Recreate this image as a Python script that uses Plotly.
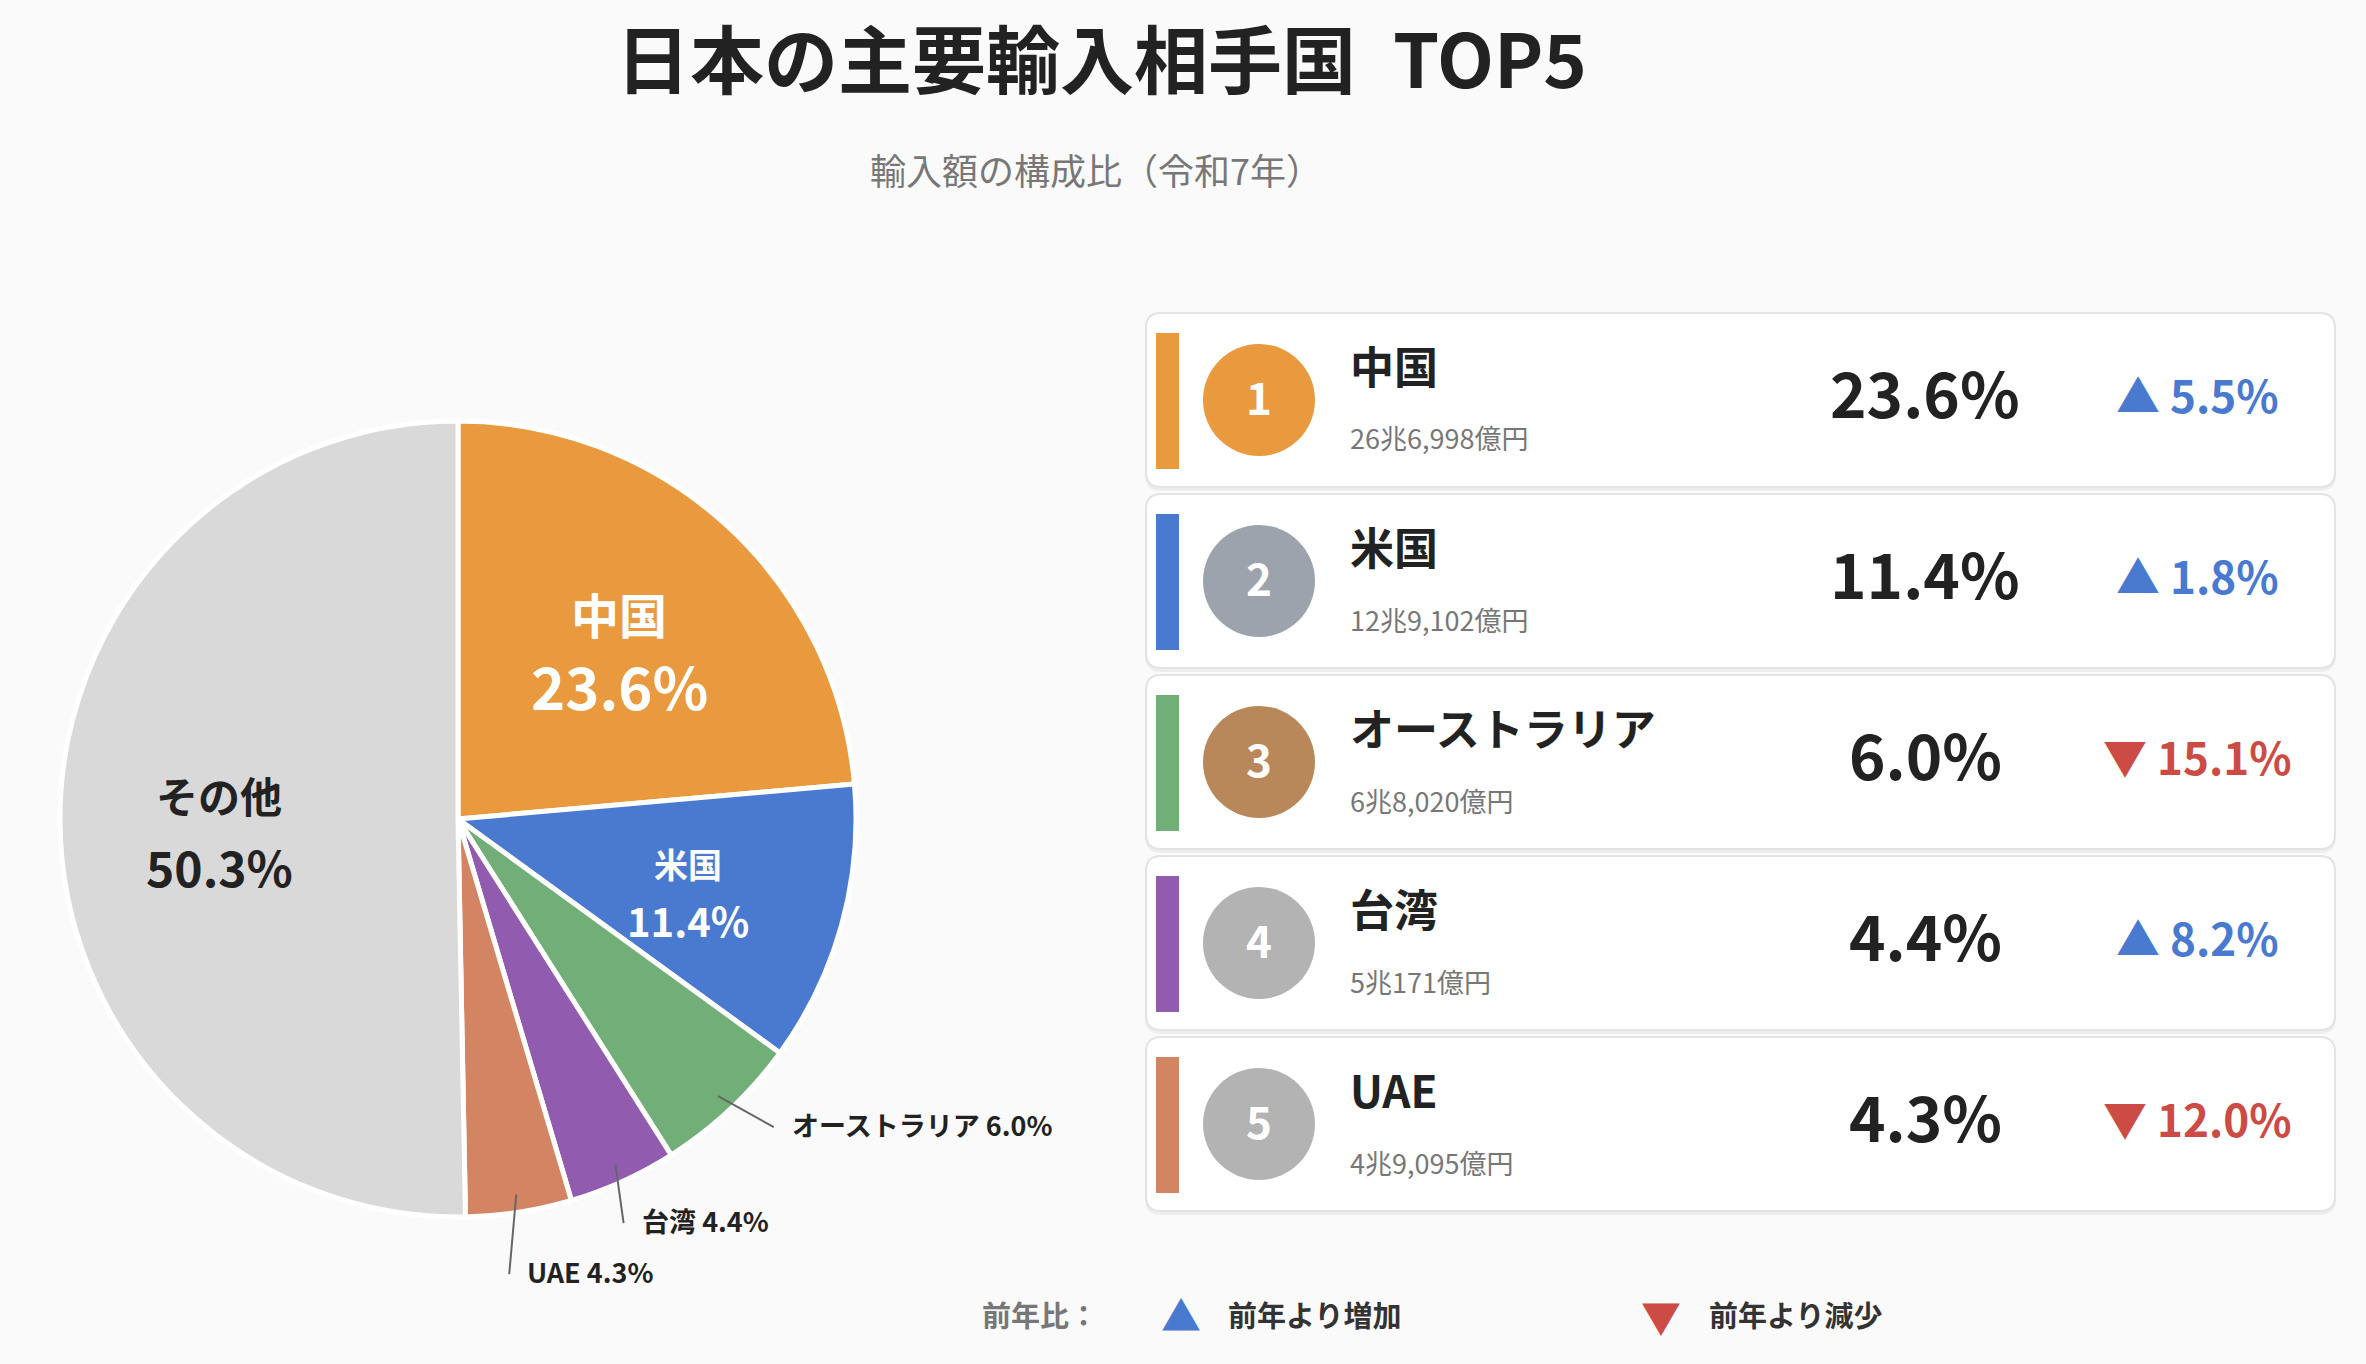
import math
import plotly.graph_objects as go

# ---------------- data ----------------
countries = ["中国", "米国", "オーストラリア", "台湾", "UAE"]
shares = [23.6, 11.4, 6.0, 4.4, 4.3]
other_label = "その他"
other_share = 50.3
amounts_oku = [266998, 129102, 68020, 50171, 49095]   # 億円
yoy = [5.5, 1.8, -15.1, 8.2, -12.0]                   # 前年比 %
ranks = [1, 2, 3, 4, 5]

title_text = "日本の主要輸入相手国\u2002TOP5"
subtitle_text = "輸入額の構成比（令和7年）"
legend_title = "前年比："
legend_up = "前年より増加"
legend_down = "前年より減少"

# ---------------- style ----------------
W, H = 2366, 1364
FONT = "Noto Sans CJK JP"
BG = "#FAFAFA"
slice_colors = ["#E99A3E", "#4A7ACF", "#72AE78", "#915BAF", "#D38462", "#D9D9D9"]
rank_colors = ["#E99A3E", "#9DA3AD", "#B8875A", "#B3B3B3", "#B3B3B3"]
UP, DOWN = "#4A7ACF", "#CC4B45"
DARK = "#222222"
GRAY = "#777777"

CX, CY, R = 458, 819, 398


def X(px):
    return px / W


def Y(py):
    return 1 - py / H


labels = countries + [other_label]
values = shares + [other_share]
total = sum(values)

fig = go.Figure()
fig.add_trace(go.Pie(
    labels=labels, values=values, sort=False, direction="clockwise", rotation=0,
    marker=dict(colors=slice_colors, line=dict(color="white", width=5)),
    textinfo="none", hoverinfo="label+percent", showlegend=False,
    domain=dict(x=[X(CX - R), X(CX + R)], y=[Y(CY + R), Y(CY - R)]),
))

ann = []
shapes = []

# ---------- pie labels ----------
inside_style = {
    "中国": dict(n=48, v=58, off=36, dy=6, col="white"),
    "米国": dict(n=34, v=40, off=28, dy=9, col="white"),
    "その他": dict(n=42, v=48, off=36, dy=9, col=DARK),
}
outside_style = {
    "オーストラリア": dict(rf=1.103, da=-2.5),
    "台湾": dict(rf=1.092, da=2.2),
    "UAE": dict(rf=1.145, da=2.4),
}
cum = 0.0
for lab, val in zip(labels, values):
    mid = (cum + val / 2) / total * 2 * math.pi
    cum += val
    if lab in inside_style:
        s = inside_style[lab]
        f = 0.6 * R
        lx = CX + f * math.sin(mid)
        ly = CY - f * math.cos(mid) + s["dy"]
        ann.append(dict(x=X(lx), y=Y(ly - s["off"]), text=lab, showarrow=False,
                        xanchor="center", yanchor="middle",
                        font=dict(family=FONT, size=s["n"], color=s["col"], weight=700)))
        ann.append(dict(x=X(lx), y=Y(ly + s["off"]), text=f"{val:.1f}%", showarrow=False,
                        xanchor="center", yanchor="middle",
                        font=dict(family=FONT, size=s["v"], color=s["col"], weight=700)))
    else:
        s = outside_style[lab]
        Rl = 400
        sx = CX + 0.95 * Rl * math.sin(mid)
        sy = CY - 0.95 * Rl * math.cos(mid)
        a2 = mid + math.radians(s["da"])
        ex = CX + s["rf"] * Rl * math.sin(a2)
        ey = CY - s["rf"] * Rl * math.cos(a2)
        shapes.append(dict(type="line", xref="paper", yref="paper",
                           x0=X(sx), y0=Y(sy), x1=X(ex), y1=Y(ey),
                           line=dict(color="#666666", width=2)))
        ann.append(dict(x=X(ex + 16), y=Y(ey - 3), text=f"{lab} {val:.1f}%", showarrow=False,
                        xanchor="left", yanchor="middle",
                        font=dict(family=FONT, size=27, color=DARK, weight=700)))

# ---------- title ----------
ann.append(dict(x=X(1101), y=Y(56), text=title_text, showarrow=False,
                xanchor="center", yanchor="middle",
                font=dict(family=FONT, size=74, color=DARK, weight=700)))
ann.append(dict(x=X(1096), y=Y(169), text=subtitle_text, showarrow=False,
                xanchor="center", yanchor="middle",
                font=dict(family=FONT, size=36, color=GRAY)))


# ---------- cards ----------
def rrect(x0, y0, x1, y1, r):
    rx, ry = r, r
    pts = [
        f"M {X(x0 + rx)},{Y(y0)}",
        f"L {X(x1 - rx)},{Y(y0)}",
        f"Q {X(x1)},{Y(y0)} {X(x1)},{Y(y0 + ry)}",
        f"L {X(x1)},{Y(y1 - ry)}",
        f"Q {X(x1)},{Y(y1)} {X(x1 - rx)},{Y(y1)}",
        f"L {X(x0 + rx)},{Y(y1)}",
        f"Q {X(x0)},{Y(y1)} {X(x0)},{Y(y1 - ry)}",
        f"L {X(x0)},{Y(y0 + ry)}",
        f"Q {X(x0)},{Y(y0)} {X(x0 + rx)},{Y(y0)}",
        "Z",
    ]
    return " ".join(pts)


def fmt_amount(oku):
    cho, rest = divmod(oku, 10000)
    return f"{cho}兆{rest:,}億円"


CARD_X0, CARD_X1 = 1146, 2335
CARD_TOP0, CARD_PITCH, CARD_H = 313, 181, 174
for i, (name, sh, amt, ch, rk) in enumerate(zip(countries, shares, amounts_oku, yoy, ranks)):
    top = CARD_TOP0 + CARD_PITCH * i
    bot = top + CARD_H
    shapes.append(dict(type="path", xref="paper", yref="paper", layer="below",
                       path=rrect(CARD_X0 - 1, top + 1, CARD_X1 + 1, bot + 4, 16),
                       fillcolor="rgba(0,0,0,0.05)", line=dict(width=0)))
    shapes.append(dict(type="path", xref="paper", yref="paper", layer="below",
                       path=rrect(CARD_X0, top, CARD_X1, bot, 15),
                       fillcolor="white", line=dict(color="#E3E3E3", width=2)))
    shapes.append(dict(type="rect", xref="paper", yref="paper",
                       x0=X(1156), x1=X(1179), y0=Y(top + 20), y1=Y(top + 156),
                       fillcolor=slice_colors[i], line=dict(width=0)))
    ccx, ccy, cr = 1259, top + 87, 56
    shapes.append(dict(type="circle", xref="paper", yref="paper",
                       x0=X(ccx - cr), x1=X(ccx + cr), y0=Y(ccy + cr), y1=Y(ccy - cr),
                       fillcolor=rank_colors[i], line=dict(width=0)))
    ann.append(dict(x=X(ccx), y=Y(ccy - 4), text=str(rk), showarrow=False,
                    xanchor="center", yanchor="middle",
                    font=dict(family=FONT, size=44, color="white", weight=700)))
    ann.append(dict(x=X(1348), y=Y(top + 52), text=name, showarrow=False,
                    xanchor="left", yanchor="middle",
                    font=dict(family=FONT, size=44, color=DARK, weight=700)))
    ann.append(dict(x=X(1348), y=Y(top + 125), text=fmt_amount(amt), showarrow=False,
                    xanchor="left", yanchor="middle",
                    font=dict(family=FONT, size=27, color=GRAY)))
    ann.append(dict(x=X(1925), y=Y(top + 78), text=f"{sh:.1f}%", showarrow=False,
                    xanchor="center", yanchor="middle",
                    font=dict(family=FONT, size=62, color=DARK, weight=700)))
    up = ch >= 0
    arrow = "▲" if up else "▼"
    ann.append(dict(x=X(2197), y=Y(top + 81), text=f"{arrow} {abs(ch):.1f}%", showarrow=False,
                    xanchor="center", yanchor="middle",
                    font=dict(family=FONT, size=44, color=UP if up else DOWN, weight=700)))

# ---------- bottom legend ----------
LY = 1314
ann.append(dict(x=X(980), y=Y(LY), text=legend_title, showarrow=False,
                xanchor="left", yanchor="middle",
                font=dict(family=FONT, size=29, color=GRAY, weight=700)))
ann.append(dict(x=X(1181), y=Y(LY), text="▲", showarrow=False,
                xanchor="center", yanchor="middle",
                font=dict(family=FONT, size=40, color=UP)))
ann.append(dict(x=X(1226), y=Y(LY), text=legend_up, showarrow=False,
                xanchor="left", yanchor="middle",
                font=dict(family=FONT, size=29, color="#333333", weight=700)))
ann.append(dict(x=X(1661), y=Y(LY + 2), text="▼", showarrow=False,
                xanchor="center", yanchor="middle",
                font=dict(family=FONT, size=40, color=DOWN)))
ann.append(dict(x=X(1707), y=Y(LY), text=legend_down, showarrow=False,
                xanchor="left", yanchor="middle",
                font=dict(family=FONT, size=29, color="#333333", weight=700)))

fig.update_layout(
    width=W, height=H, autosize=False,
    margin=dict(l=0, r=0, t=0, b=0),
    paper_bgcolor=BG, plot_bgcolor=BG,
    font=dict(family=FONT),
    annotations=ann, shapes=shapes,
)

fig.write_html(
    "out.html",
    config={"displayModeBar": False},
    post_script="document.body.style.margin='0';document.body.style.background='#FAFAFA';"
                "document.documentElement.style.overflow='hidden';",
)
